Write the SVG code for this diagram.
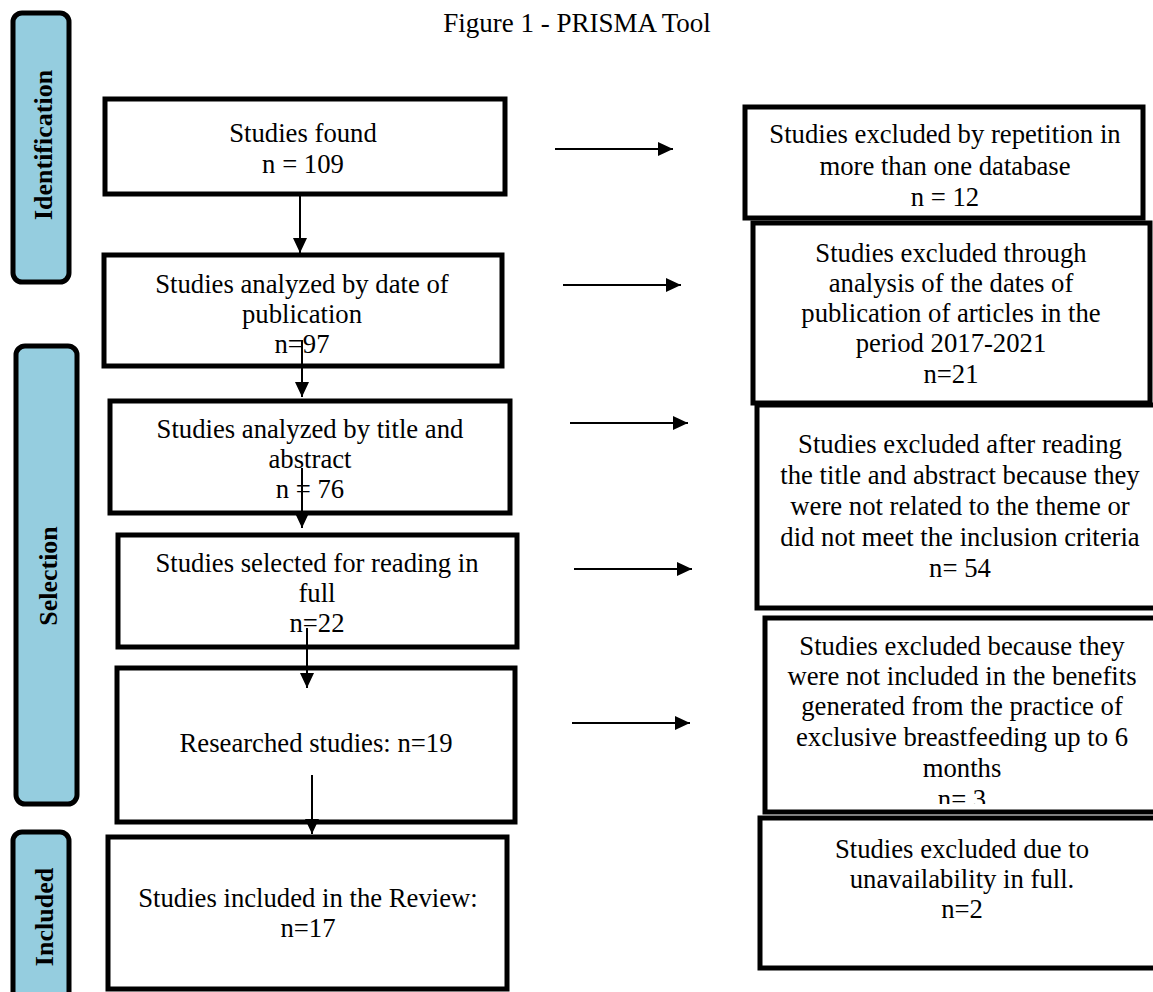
<svg xmlns="http://www.w3.org/2000/svg" width="1153" height="992" viewBox="0 0 1153 992">
<style>
text{font-family:"Liberation Serif","Times New Roman",serif;fill:#000}
.t{font-size:26.7px;text-anchor:middle}
.title{font-size:27px;text-anchor:middle}
.box{fill:#fff;stroke:#000;stroke-width:5}
.side{fill:#95CDDF;stroke:#000;stroke-width:5}
.sl{font-size:26px;font-weight:bold;text-anchor:middle}
.c{stroke:#000;stroke-width:2;fill:none}
</style>
<defs>
<marker id="ah" viewBox="0 0 15 14" refX="15" refY="7" markerWidth="15" markerHeight="14" markerUnits="userSpaceOnUse" orient="auto">
<path d="M0,0 L15,7 L0,14 Z" fill="#000"/>
</marker>
<clipPath id="clipR4"><rect x="765" y="618" width="400" height="186"/></clipPath>
</defs>
<text class="title" x="577" y="32">Figure 1 - PRISMA Tool</text>
<g id="side-identification">
<rect class="side" x="13" y="13" width="56" height="269" rx="9"/>
<text class="sl" transform="translate(52,145) rotate(-90)">Identification</text>
</g>
<g id="side-selection">
<rect class="side" x="16" y="346" width="61" height="458" rx="9"/>
<text class="sl" transform="translate(57,576) rotate(-90)">Selection</text>
</g>
<g id="side-included">
<rect class="side" x="13" y="832" width="56" height="180" rx="9"/>
<text class="sl" transform="translate(53,917) rotate(-90)">Included</text>
</g>
<g id="box-found">
<rect class="box" x="105" y="99" width="400" height="95"/>
<text class="t" x="303" y="142">Studies found</text>
<text class="t" x="303" y="173">n = 109</text>
</g>
<g id="box-date">
<rect class="box" x="104" y="255" width="398" height="111"/>
<text class="t" x="302" y="293">Studies analyzed by date of</text>
<text class="t" x="302" y="323">publication</text>
<text class="t" x="302" y="353">n=97</text>
</g>
<g id="box-title">
<rect class="box" x="110" y="401" width="400" height="112"/>
<text class="t" x="310" y="438">Studies analyzed by title and</text>
<text class="t" x="310" y="468">abstract</text>
<text class="t" x="310" y="498">n = 76</text>
</g>
<g id="box-full">
<rect class="box" x="118" y="535" width="399" height="112"/>
<text class="t" x="317" y="572">Studies selected for reading in</text>
<text class="t" x="317" y="602">full</text>
<text class="t" x="317" y="632">n=22</text>
</g>
<g id="box-researched">
<rect class="box" x="117" y="668" width="398" height="154"/>
<text class="t" x="316" y="752">Researched studies: n=19</text>
</g>
<g id="box-included">
<rect class="box" x="108" y="837" width="399" height="152"/>
<text class="t" x="308" y="907">Studies included in the Review:</text>
<text class="t" x="308" y="937">n=17</text>
</g>
<g id="ex-repetition">
<rect class="box" x="745" y="107" width="398" height="111"/>
<text class="t" x="945" y="143">Studies excluded by repetition in</text>
<text class="t" x="945" y="175">more than one database</text>
<text class="t" x="945" y="206">n = 12</text>
</g>
<g id="ex-dates">
<rect class="box" x="753" y="223" width="397" height="180"/>
<text class="t" x="951" y="262">Studies excluded through</text>
<text class="t" x="951" y="292">analysis of the dates of</text>
<text class="t" x="951" y="322">publication of articles in the</text>
<text class="t" x="951" y="352">period 2017-2021</text>
<text class="t" x="951" y="383">n=21</text>
</g>
<g id="ex-title">
<rect class="box" x="757" y="405" width="410" height="203"/>
<text class="t" x="960" y="453">Studies excluded after reading</text>
<text class="t" x="960" y="484">the title and abstract because they</text>
<text class="t" x="960" y="515">were not related to the theme or</text>
<text class="t" x="960" y="546">did not meet the inclusion criteria</text>
<text class="t" x="960" y="577">n= 54</text>
</g>
<g id="ex-benefits">
<rect class="box" x="765" y="618" width="410" height="194"/>
<g clip-path="url(#clipR4)">
<text class="t" x="962" y="655">Studies excluded because they</text>
<text class="t" x="962" y="685">were not included in the benefits</text>
<text class="t" x="962" y="715">generated from the practice of</text>
<text class="t" x="962" y="746">exclusive breastfeeding up to 6</text>
<text class="t" x="962" y="777">months</text>
<text class="t" x="962" y="808">n= 3</text>
</g>
</g>
<g id="ex-unavailable">
<rect class="box" x="760" y="818" width="410" height="150"/>
<text class="t" x="962" y="858">Studies excluded due to</text>
<text class="t" x="962" y="888">unavailability in full.</text>
<text class="t" x="962" y="918">n=2</text>
</g>
<g id="connectors">
<line class="c" x1="300" y1="196" x2="300" y2="253" marker-end="url(#ah)"/>
<line class="c" x1="302" y1="340" x2="302" y2="397" marker-end="url(#ah)"/>
<line class="c" x1="302" y1="468" x2="302" y2="528" marker-end="url(#ah)"/>
<line class="c" x1="307" y1="628" x2="307" y2="688" marker-end="url(#ah)"/>
<line class="c" x1="312" y1="775" x2="312" y2="834" marker-end="url(#ah)"/>
<line class="c" x1="555" y1="149" x2="673" y2="149" marker-end="url(#ah)"/>
<line class="c" x1="563" y1="285" x2="681" y2="285" marker-end="url(#ah)"/>
<line class="c" x1="570" y1="423" x2="688" y2="423" marker-end="url(#ah)"/>
<line class="c" x1="574" y1="569" x2="692" y2="569" marker-end="url(#ah)"/>
<line class="c" x1="572" y1="723" x2="690" y2="723" marker-end="url(#ah)"/>
</g>
</svg>
